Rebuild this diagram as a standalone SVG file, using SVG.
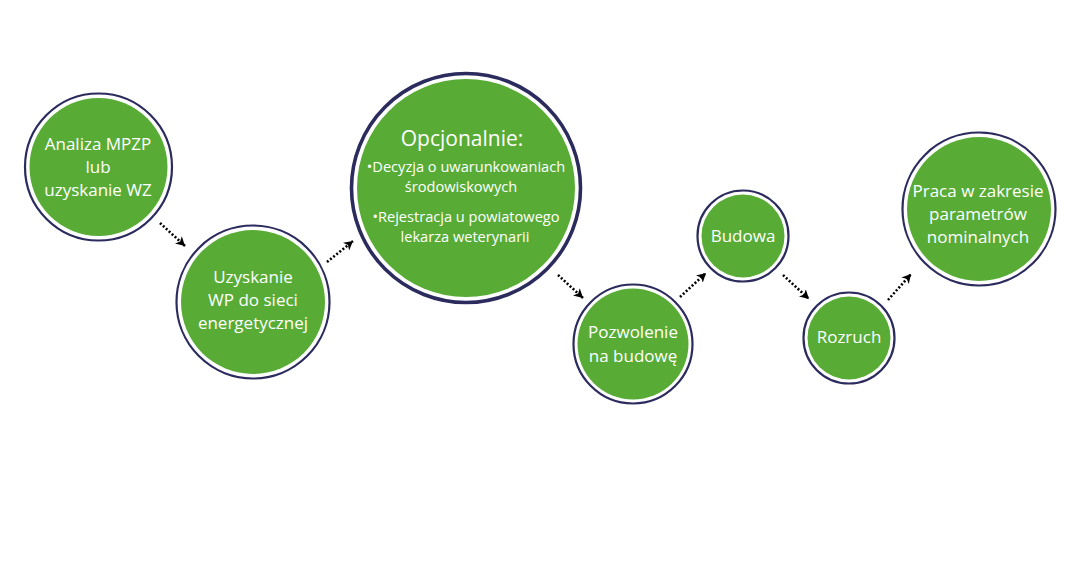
<svg xmlns="http://www.w3.org/2000/svg" width="1068" height="580" viewBox="0 0 1068 580">
<defs>
<style>
.ring{fill:none;stroke:#2c2b5e;stroke-width:2.2}
.ringb{fill:none;stroke:#2c2b5e;stroke-width:3.6}
.fill{fill:#58ac35}
.t{font-family:"Open Sans","Noto Sans","DejaVu Sans",sans-serif;fill:#ffffff;text-anchor:middle}
.t17{font-size:17px}
.t21{font-size:21px}
.t14{font-size:14.6px}
.con{stroke:#000;stroke-width:2.6;stroke-dasharray:2 2;fill:none}
</style>
<marker id="ah" markerUnits="userSpaceOnUse" markerWidth="12" markerHeight="12" refX="9" refY="5" orient="auto">
<path d="M0,0 L9,5 L0,10 L2.5,5 Z" fill="#000"/>
</marker>
</defs>
<rect width="1068" height="580" fill="#ffffff"/>
<g id="connectors">
<line class="con" x1="160" y1="223" x2="185" y2="246" marker-end="url(#ah)"/>
<line class="con" x1="327" y1="262" x2="353" y2="241" marker-end="url(#ah)"/>
<line class="con" x1="558" y1="275" x2="583" y2="298" marker-end="url(#ah)"/>
<line class="con" x1="680" y1="297" x2="706" y2="273" marker-end="url(#ah)"/>
<line class="con" x1="783" y1="275" x2="809" y2="299" marker-end="url(#ah)"/>
<line class="con" x1="888" y1="300" x2="911" y2="274" marker-end="url(#ah)"/>
</g>
<g id="n1">
<circle class="fill" cx="98.5" cy="167" r="69"/>
<circle class="ring" cx="98.5" cy="167" r="73.5"/>
<text class="t t17" x="98" y="150">Analiza MPZP</text>
<text class="t t17" x="98" y="173">lub</text>
<text class="t t17" x="98" y="196">uzyskanie WZ</text>
</g>
<g id="n2">
<circle class="fill" cx="253" cy="302" r="72"/>
<circle class="ring" cx="253" cy="302" r="76.5"/>
<text class="t t17" x="253" y="283">Uzyskanie</text>
<text class="t t17" x="253" y="306">WP do sieci</text>
<text class="t t17" x="253" y="329">energetycznej</text>
</g>
<g id="n3">
<circle class="fill" cx="466" cy="188" r="109"/>
<circle class="ringb" cx="466" cy="188" r="114.5"/>
<text class="t t21" x="462" y="146">Opcjonalnie:</text>
<text class="t t14" x="466" y="172">•Decyzja o uwarunkowaniach</text>
<text class="t t14" x="461" y="192">środowiskowych</text>
<text class="t t14" x="466" y="222">•Rejestracja u powiatowego</text>
<text class="t t14" x="465" y="242">lekarza weterynarii</text>
</g>
<g id="n4">
<circle class="fill" cx="633" cy="344" r="55.5"/>
<circle class="ring" cx="633" cy="344" r="59.5"/>
<text class="t t17" x="633" y="338">Pozwolenie</text>
<text class="t t17" x="633" y="362">na budowę</text>
</g>
<g id="n5">
<circle class="fill" cx="743" cy="236" r="41.5"/>
<circle class="ring" cx="743" cy="236" r="45.5"/>
<text class="t t17" x="743" y="242">Budowa</text>
</g>
<g id="n6">
<circle class="fill" cx="849" cy="338" r="41.5"/>
<circle class="ring" cx="849" cy="338" r="45.5"/>
<text class="t t17" x="849" y="343">Rozruch</text>
</g>
<g id="n7">
<circle class="fill" cx="979" cy="209" r="72"/>
<circle class="ring" cx="979" cy="209" r="76.5"/>
<text class="t t17" x="978" y="197">Praca w zakresie</text>
<text class="t t17" x="978" y="220">parametrów</text>
<text class="t t17" x="978" y="243">nominalnych</text>
</g>
</svg>
